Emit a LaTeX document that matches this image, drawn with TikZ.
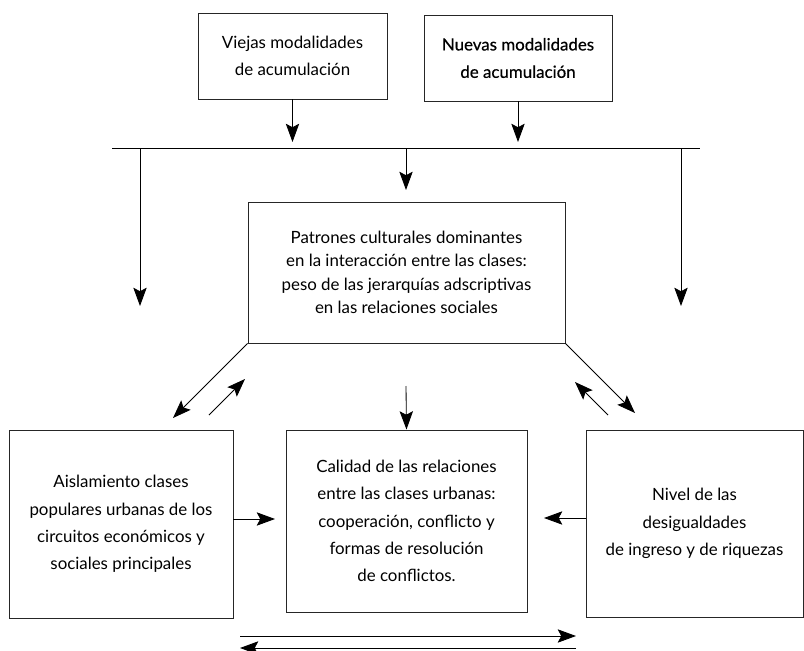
\documentclass[tikz,border=0pt]{standalone}
\usepackage{fontspec}
\setmainfont{Lato}
\newfontfamily\boldishfont[FakeBold=0.5]{Lato}
\usetikzlibrary{shapes,arrows.meta}

\begin{document}
\begin{tikzpicture}[x=0.025cm, y=-0.025cm, line width=0.6pt]
\tikzstyle{vertexr}=[rectangle, draw=black!85, line width=0.7pt, inner sep=0pt, align=center, font=\fontsize{12}{19.5}\selectfont]
\tikzstyle{drawstyle}=[line width=0.6pt, -{Stealth[length=13pt, width=9.5pt, inset=2.5pt]}]

\useasboundingbox (0,0) rectangle (804,651);

\node[vertexr, minimum width=189*0.025cm, minimum height=86*0.025cm] (V0) at (292.5,56) {Viejas modalidades\\de acumulación};
\node[vertexr, minimum width=188*0.025cm, minimum height=86*0.025cm, font=\fontsize{12}{19.5}\boldishfont] (N0) at (518,58) {Nuevas modalidades\\de acumulación};
\node[vertexr, minimum width=317*0.025cm, minimum height=141*0.025cm, font=\fontsize{12}{16.6}\selectfont] (P1) at (406.5,272.5) {Patrones culturales dominantes\\en la interacción entre las clases:\\peso de las jerarquías adscriptivas\\en las relaciones sociales};
\node[vertexr, minimum width=224*0.025cm, minimum height=188*0.025cm] (A2) at (121,524) {Aislamiento clases\\populares urbanas de los\\circuitos económicos y\\sociales principales};
\node[vertexr, minimum width=241*0.025cm, minimum height=182*0.025cm] (C2) at (406.5,521) {Calidad de las relaciones\\entre las clases urbanas:\\cooperación, conflicto y\\formas de resolución\\de conflictos.};
\node[vertexr, minimum width=217*0.025cm, minimum height=187*0.025cm] (D2) at (694.5,523.5) {Nivel de las\\desigualdades\\de ingreso y de riquezas};

% barra horizontal
\coordinate (Bl) at (112,148);
\coordinate (Br) at (700,148);
\draw (Bl) -- (Br);
\draw[drawstyle] (V0) -- (V0 |- 0,142);
\draw[drawstyle] (N0) -- (N0 |- 0,142);
\draw[drawstyle] (406,148) -- (406,190);
\draw[drawstyle] (140,148) -- (140,306);
\draw[drawstyle] (681,148) -- (681,306);

% diagonales
\draw[drawstyle] (P1.south west) -- (173,418);
\draw[drawstyle] (209,415) -- (245,379);
\draw[drawstyle] (P1.south east) -- (635,413);
\draw[drawstyle] (608,415) -- (575,382);
\draw[drawstyle] (406,386) -- (C2.north);

% fila inferior
\draw[drawstyle] (A2.east |- 0,519) -- (275,519);
\draw[drawstyle] (D2.west |- 0,518) -- (544,518);
\draw[drawstyle] (240,636) -- (576,636);
\draw[drawstyle] (576,648) -- (240,648);
\end{tikzpicture}
\end{document}
